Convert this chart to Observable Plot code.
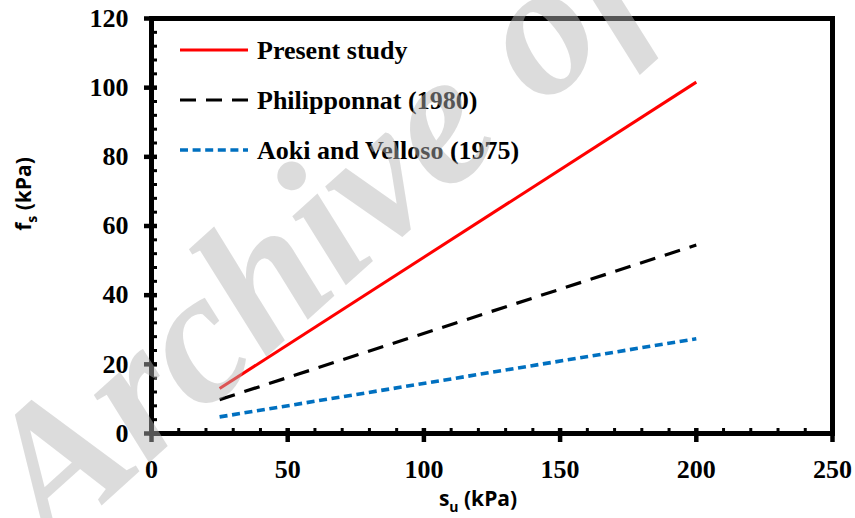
<!DOCTYPE html>
<html><head><meta charset="utf-8">
<script src="https://cdn.jsdelivr.net/npm/d3@7"></script>
<script src="https://cdn.jsdelivr.net/npm/@observablehq/plot@0.6"></script>
<style>
html,body{margin:0;padding:0;background:#fff}
#chart svg{display:block}
</style>
</head><body><div id="chart"></div>
<script>
// ---- data ----
const seriesNames = ["Present study", "Philipponnat (1980)", "Aoki and Velloso (1975)"];
const su = [25, 200];
const presentStudy = [13, 101.6];
const philipponnat = [9.8, 54.5];
const aokiVelloso = [4.8, 27.4];
const xTickValues = [0, 50, 100, 150, 200, 250];
const yTickValues = [0, 20, 40, 60, 80, 100, 120];
const xMinorTicks = d3.range(10, 250, 10).filter(v => v % 50 !== 0);
const yMinorTicks = d3.range(4, 120, 4).filter(v => v % 20 !== 0);
const xLabel = ["s", "u", " (kPa)"];
const yLabel = ["f", "s", " (kPa)"];
const watermark = "Archive of SID";

const colors = ["#ff0000", "#000000", "#0070c0"];
const dashes = [null, "16,10", "8,4.6"];
const widths = [3, 3.2, 3.6];

const seriesValues = [presentStudy, philipponnat, aokiVelloso];
const rows = seriesNames.flatMap((name, i) => su.map((x, j) => ({series: name, su: x, fs: seriesValues[i][j]})));

const W = 855, H = 518;
const mL = 151, mR = 23, mT = 18, mB = 85;
const plotW = W - mL - mR, plotH = H - mT - mB;
const serif = "'Liberation Serif','Times New Roman',serif";

const marks = [];
seriesNames.forEach((name, i) => {
  marks.push(Plot.line(rows.filter(d => d.series === name), {
    x: "su", y: "fs", stroke: colors[i], strokeWidth: widths[i],
    strokeDasharray: dashes[i], strokeLinecap: "butt"
  }));
});
marks.push(
  Plot.frame({stroke: "black", strokeWidth: 5}),
  // inner ticks
  Plot.tickX(xTickValues, {x: d => d, insetTop: plotH - 5, stroke: "black", strokeWidth: 4.5}),
  Plot.tickX(xMinorTicks, {x: d => d, insetTop: plotH - 5, stroke: "black", strokeWidth: 3}),
  Plot.tickY(yTickValues, {y: d => d, insetRight: plotW - 6, stroke: "black", strokeWidth: 4.5}),
  Plot.tickY(yMinorTicks, {y: d => d, insetRight: plotW - 6, stroke: "black", strokeWidth: 3}),
  Plot.axisX({ticks: xTickValues, tickSize: 9, tickPadding: 17, strokeWidth: 4.5,
    fontSize: 26, fontWeight: "bold", fontFamily: serif, label: null}),
  Plot.axisY({ticks: yTickValues, tickSize: 7, tickPadding: 16, strokeWidth: 4.5,
    fontSize: 26, fontWeight: "bold", fontFamily: serif, label: null})
);

const chart = Plot.plot({
  width: W, height: H,
  marginLeft: mL, marginRight: mR, marginTop: mT, marginBottom: mB,
  x: {domain: [0, 250]},
  y: {domain: [0, 120]},
  style: {background: "white", color: "black", overflow: "visible"},
  marks
});
document.getElementById("chart").appendChild(chart);

const svg = d3.select(chart);
const sans = "'Open Sans','Liberation Sans',sans-serif";

// axis titles with subscripts
const xt = svg.append("text").attr("x", 478).attr("y", 506)
  .attr("text-anchor", "middle").attr("font-family", sans).attr("font-weight", "bold")
  .attr("font-size", 21).attr("fill", "black");
xt.append("tspan").text(xLabel[0]);
xt.append("tspan").attr("font-size", 14).attr("dy", 6).text(xLabel[1]);
xt.append("tspan").attr("dy", -6).text(xLabel[2]);

const yt = svg.append("text").attr("transform", "translate(31,194) rotate(-90)")
  .attr("text-anchor", "middle").attr("font-family", sans).attr("font-weight", "bold")
  .attr("font-size", 21).attr("fill", "black");
yt.append("tspan").text(yLabel[0]);
yt.append("tspan").attr("font-size", 14).attr("dy", 6).text(yLabel[1]);
yt.append("tspan").attr("dy", -6).text(yLabel[2]);

// legend
const lg = svg.append("g");
seriesNames.forEach((name, i) => {
  const cy = 50 + i * 50;
  lg.append("line").attr("x1", 180).attr("x2", 248).attr("y1", cy).attr("y2", cy)
    .attr("stroke", colors[i]).attr("stroke-width", widths[i])
    .attr("stroke-dasharray", dashes[i]);
  lg.append("text").attr("x", 257).attr("y", cy + 9).attr("text-anchor", "start")
    .attr("font-family", serif).attr("font-weight", "bold").attr("font-size", 26)
    .attr("fill", "black").text(name);
});

// watermark
svg.append("text").attr("transform", "translate(52,550) rotate(-42)").attr("text-anchor", "start")
  .attr("font-family", serif).attr("font-weight", "bold").attr("font-style", "italic")
  .attr("font-size", 190).attr("fill", "#b4b4b4").attr("fill-opacity", 0.47)
  .text(watermark);
</script>
</body></html>
